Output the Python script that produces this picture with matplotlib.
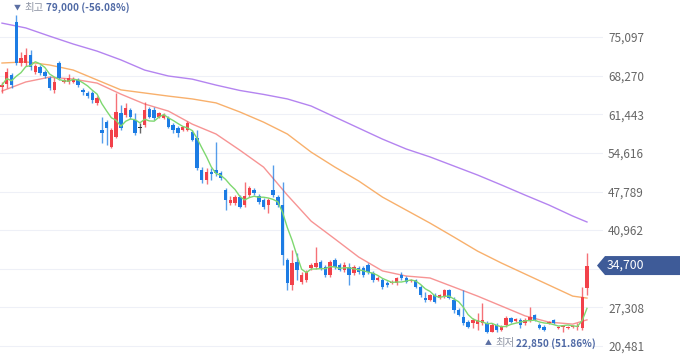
import numpy as np
import pandas as pd
import matplotlib
matplotlib.use('Agg')
import matplotlib.pyplot as plt
from matplotlib.patches import Polygon
from matplotlib.transforms import IdentityTransform

plt.rcParams['font.family'] = ['Noto Sans CJK KR', 'DejaVu Sans']

# daily candles (won)
opens = [66300, 66800, 68400, 77700, 70500, 70500, 71900, 68900, 69800, 68900,
         67850, 65700, 70500, 67100, 67100, 67100, 67500, 65700, 65200, 65200,
         63400, 58700, 60100, 55700, 57400, 61700, 61300, 62200, 60400, 59000,
         59500, 62400, 62200, 61000, 60800, 60800, 59500, 59000, 58700, 58700,
         58300, 57200, 51600, 49800, 51200, 51600, 51100, 48050, 45750, 45750,
         46800, 45400, 47150, 48050, 47000, 46300, 45400, 48050, 46800, 45400,
         35700, 31250, 35350, 31800, 32150, 34250, 34450, 35350, 34450, 33050,
         35700, 34800, 33900, 34450, 33400, 34250, 34250, 34800, 33400, 32150,
         32150, 31600, 31600, 31600, 33050, 32500, 31950, 32150, 30900, 28950,
         28600, 29500, 28950, 29150, 30400, 28600, 26850, 25600, 24700, 24550,
         24350, 24550, 24550, 22950, 24200, 23300, 24200, 25450, 24900, 25100,
         24550, 25100, 25950, 24200, 23850, 24550, 25100, 23650, 23850, 23650,
         23850, 23850, 23650, 30750]
closes = [66600, 68900, 66600, 70500, 71400, 71900, 69800, 70000, 68700, 68200,
          66100, 67100, 67850, 67500, 67850, 67700, 66600, 65400, 64700, 64000,
          64300, 58100, 59000, 58700, 61800, 59000, 62500, 61000, 58100, 59000,
          62200, 61000, 60800, 61700, 61300, 59200, 58700, 58100, 59200, 59900,
          56900, 51900, 49800, 51200, 50900, 51100, 50200, 46300, 46300, 46800,
          45050, 47000, 48400, 47500, 45950, 45050, 46300, 47150, 45400, 36550,
          31600, 35150, 33900, 33050, 33550, 34800, 35150, 34250, 33050, 35350,
          34450, 33900, 34800, 33050, 34450, 33550, 33050, 33550, 32150, 32500,
          30900, 31250, 31800, 32500, 32500, 31800, 32150, 30900, 29500, 28600,
          29500, 28250, 29500, 30400, 28950, 26850, 25950, 24550, 23850, 25100,
          25100, 25100, 22950, 24200, 23300, 23850, 25450, 24700, 25250, 24200,
          25100, 25600, 25100, 23650, 23300, 24700, 24550, 23850, 24000, 23850,
          24000, 24000, 29150, 34700]
highs = [67100, 69600, 68700, 79000, 72450, 73200, 72800, 70300, 70100, 69300,
         68200, 68000, 70900, 67850, 68600, 68000, 67850, 66100, 65600, 65600,
         64700, 61000, 60400, 59000, 65200, 63100, 63400, 62500, 61700, 59900,
         63600, 62700, 62700, 61800, 61700, 61100, 59900, 59400, 59400, 60300,
         58700, 58700, 52100, 51900, 51900, 56500, 51400, 48400, 47000, 47150,
         47150, 49500, 48750, 48400, 47350, 46650, 46650, 52500, 47150, 49500,
         36050, 37450, 36900, 33550, 33900, 35150, 38000, 35700, 34800, 35700,
         36050, 35150, 35350, 35150, 34800, 34600, 34600, 35150, 33750, 32850,
         32500, 31950, 32150, 32700, 33550, 32850, 32300, 32300, 31250, 30050,
         29650, 29850, 29650, 30550, 30550, 29150, 27200, 30400, 25100, 25450,
         26300, 28100, 24900, 24550, 24550, 24200, 25800, 25600, 25450, 25450,
         25450, 27400, 26150, 24550, 24200, 24900, 25250, 24000, 24200, 24000,
         24200, 24550, 30900, 36900]
lows = [65200, 66100, 66100, 70100, 70000, 70000, 69300, 68600, 68400, 67850,
        65700, 65200, 67500, 67000, 66800, 67000, 66300, 64800, 64300, 63400,
        63100, 56400, 56000, 55500, 57200, 58700, 61000, 60600, 57800, 58100,
        59200, 60800, 60400, 60800, 60600, 59000, 58100, 57400, 58500, 58500,
        56700, 51600, 49300, 49100, 49800, 50500, 49800, 44500, 45400, 45400,
        44850, 45050, 46800, 47150, 45600, 44700, 44000, 46800, 45050, 34800,
        30400, 30400, 32150, 31450, 31800, 33900, 34100, 33900, 32700, 32700,
        34100, 33750, 33550, 31250, 33050, 33200, 32700, 33200, 31800, 31950,
        30550, 30900, 31450, 31250, 32150, 31600, 31800, 30750, 29150, 28250,
        28450, 28100, 28800, 28950, 28800, 26300, 25800, 24200, 23650, 23650,
        23300, 24200, 22850, 22900, 22950, 23150, 23850, 24550, 24700, 23650,
        24200, 24700, 24900, 23500, 23150, 24350, 24350, 23500, 22950, 23500,
        23650, 23300, 23300, 29500]

# moving averages every 5 sessions
ma_idx = [0, 5, 10, 15, 20, 25, 30, 35, 40, 45, 50, 55, 60, 65, 70, 75, 80,
          85, 90, 95, 100, 105, 110, 115, 120, 123]
ma20 = [65550, 67150, 68000, 67650, 66950, 65000, 63250, 62000, 59700, 57950,
        55100, 52100, 47150, 42550, 39400, 36200, 33750, 32850, 32500, 30900,
        29300, 27550, 25800, 24700, 24350, 25100]
ma60 = [70500, 70700, 70150, 69250, 67500, 65750, 65200, 64650, 64150, 63450,
        61850, 60050, 57950, 54750, 52100, 49650, 46800, 44500, 42200, 39750,
        37250, 35150, 33200, 31250, 29300, 28950]
ma120 = [77550, 76700, 75250, 73850, 72600, 71050, 69250, 68200, 67650, 66600,
         65650, 64950, 64150, 62900, 60950, 59000, 57050, 55300, 53900, 52300,
         50700, 48950, 47150, 45400, 43450, 42400]

yticks = [75097, 68270, 61443, 54616, 47789, 40962, 34135, 27308, 20481]
ytick_labels = ['75,097', '68,270', '61,443', '54,616', '47,789', '40,962', '',
                '27,308', '20,481']
last_price = 34700
hi_label = ('최고', '79,000 (-56.08%)')
lo_label = ('최저', '22,850 (51.86%)')

RED = '#f2414a'
BLUE = '#1c7ce4'

fig = plt.figure(figsize=(6.8, 3.58), dpi=100)
ax = fig.add_axes([0, 0, 603 / 680, 1])
n = len(closes)
x = np.arange(n)

# moving averages
ma5 = pd.Series(closes).rolling(5, min_periods=1).mean()
ax.plot(ma_idx, ma120, color='#b484f0', lw=1.0, zorder=2)
ax.plot(ma_idx, ma60, color='#f8b06c', lw=1.0, zorder=2)
ax.plot(ma_idx, ma20, color='#f79494', lw=1.0, zorder=2)

# candles
for i in range(n):
    o, c, h, l = opens[i], closes[i], highs[i], lows[i]
    if c > o:
        col = RED
    elif c < o:
        col = BLUE
    else:
        col = '#333333'
    ax.vlines(i, l, h, color=col, lw=1.0, alpha=0.75, zorder=3)
    body = max(abs(c - o), 160)
    ax.bar(i, body, bottom=min(o, c), width=0.72, color=col, lw=0, zorder=4)

ax.plot(x, ma5, color='#7fd870', lw=1.0, zorder=5)

ax.set_xlim(-0.42, 126.37)
ax.set_ylim(18360, 81637)
ax.set_yticks(yticks)
ax.set_yticklabels(ytick_labels)
ax.yaxis.tick_right()
ax.tick_params(axis='y', length=0, pad=3.6, labelsize=8.5, labelcolor='#666666')
ax.set_xticks([])
ax.grid(axis='y', color='#eef0f7', lw=0.8, zorder=0)
for s in ax.spines.values():
    s.set_visible(False)

fig.canvas.draw()
renderer = fig.canvas.get_renderer()


def chain(idx, price, dy_px, arrow, parts):
    px, py = ax.transData.transform((idx, price))
    xx = px - 2
    yy = py + dy_px
    styles = [(arrow, '#5b6fa3', 5, 'normal', 3),
              (parts[0], '#8d93a3', 7.5, 'normal', 2),
              (parts[1], '#4f69a5', 7.2, 'bold', 0)]
    for txt, col, size, weight, gap in styles:
        t = fig.text(xx, yy, txt, transform=IdentityTransform(), ha='left',
                     va='center', color=col, fontsize=size, fontweight=weight)
        bb = t.get_window_extent(renderer)
        xx = bb.x1 + gap


chain(int(np.argmax(highs)), max(highs), 7, '▼', hi_label)
chain(int(np.argmin(lows)), min(lows), -10.5, '▲', lo_label)

# current price tag
_, y0 = ax.transData.transform((0, last_price))
tag = Polygon([(597, y0), (605, y0 + 9.5), (680, y0 + 9.5), (680, y0 - 9.5),
               (605, y0 - 9.5)], closed=True, facecolor='#3e5b98',
              edgecolor='none', transform=IdentityTransform())
fig.add_artist(tag)
fig.text(607, y0, f'{last_price:,}', transform=IdentityTransform(), ha='left',
         va='center', color='white', fontsize=8.8)

fig.savefig('out.png', dpi=100)
